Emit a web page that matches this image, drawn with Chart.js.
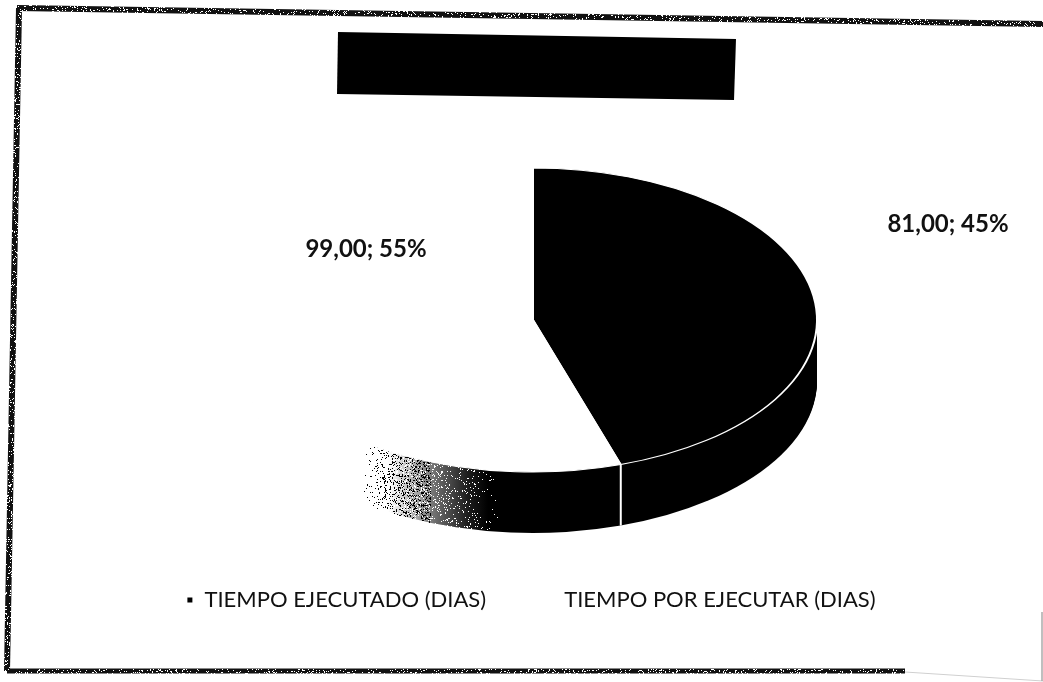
<!DOCTYPE html>
<html>
<head>
<meta charset="utf-8">
<style>
html,body{margin:0;padding:0;background:#fff;overflow:hidden}
#wrap{position:relative;width:1043px;height:682px}
</style>
<script src="https://cdn.jsdelivr.net/npm/chart.js@4"></script>
</head>
<body>
<div id="wrap"><canvas id="c" width="1043" height="682"></canvas></div>
<script>
const categories = ['TIEMPO EJECUTADO (DIAS)', 'TIEMPO POR EJECUTAR (DIAS)'];
const values = [81, 99];
const percents = [45, 55];
const sliceColors = ['#000000', '#ffffff'];

const CX = 533, CY = 320, RX = 284, RY = 152, DEPTH = 61;
const labelPositions = [[948, 224], [366, 249]];

function faceTransform(ctx, arc, dy) {
  ctx.translate(CX, CY + dy);
  ctx.scale(1, RY / RX);
  ctx.translate(-arc.x, -arc.y);
}
// fixed-seed texture for the scanned grain (decoration only, not data)
function grain(x, y) {
  const s = Math.sin(x * 12.9898 + y * 78.233) * 43758.5453;
  return s - Math.floor(s);
}

const pie3d = {
  id: 'pie3d',
  beforeDatasetsDraw(chart) {
    const ctx = chart.ctx;
    const arcs = chart.getDatasetMeta(0).data;
    const ax = arcs[0].x;
    const fade = ctx.createLinearGradient(ax - 145, 0, ax - 45, 0);
    fade.addColorStop(0, '#ffffff');
    fade.addColorStop(0.2, '#c0c0c0');
    fade.addColorStop(0.5, '#666666');
    fade.addColorStop(0.8, '#1c1c1c');
    fade.addColorStop(1, '#000000');
    // side wall: the library's own arcs, redrawn stacked below the top face
    ctx.save();
    ctx.beginPath();
    ctx.rect(0, CY, chart.width, chart.height - CY);
    ctx.clip();
    for (let dy = DEPTH; dy >= 1; dy--) {
      arcs.forEach((arc, i) => {
        const orig = arc.options;
        arc.options = Object.assign({}, orig, {
          backgroundColor: i === 0 ? '#000000' : fade,
          borderWidth: 0
        });
        ctx.save();
        faceTransform(ctx, arc, dy);
        arc.draw(ctx);
        ctx.restore();
        arc.options = orig;
      });
    }
    ctx.restore();
    // scanned grain over the fading part of the wall
    ctx.save();
    for (let x = 362; x < 500; x++) {
      const t = (x - CX) / RX;
      const top = CY + RY * Math.sqrt(1 - t * t);
      const u = (x - 362) / 138;
      for (let y = Math.floor(top); y < top + DEPTH; y++) {
        const g = grain(x, y);
        if (u < 0.5) {
          if (g < 0.22 * (1 - u) && u > 0.15) { ctx.fillStyle = '#ffffff'; ctx.fillRect(x, y, 1, 1); }
          else if (g > 1 - Math.min(u * 0.9, 0.25)) { ctx.fillStyle = '#000000'; ctx.fillRect(x, y, 1, 1); }
        } else if (g < 0.3 * (1 - u)) {
          ctx.fillStyle = '#ffffff'; ctx.fillRect(x, y, 1, 1);
        }
      }
    }
    ctx.restore();
    // white seam on the wall at the slice boundary
    const a = arcs[0];
    const ex = CX + RX * Math.cos(a.endAngle);
    const ey = CY + RY * Math.sin(a.endAngle);
    ctx.save();
    ctx.strokeStyle = '#ffffff';
    ctx.lineWidth = 2;
    ctx.beginPath();
    ctx.moveTo(ex, ey);
    ctx.lineTo(ex, ey + DEPTH);
    ctx.stroke();
    ctx.restore();
    // top face: the chart draws its arcs inside this squashed transform
    ctx.save();
    faceTransform(ctx, a, 0);
  },
  afterDatasetsDraw(chart) {
    chart.ctx.restore();
  },
  afterDraw(chart) {
    const ctx = chart.ctx;
    ctx.save();
    // blacked-out title block
    ctx.fillStyle = '#000000';
    ctx.beginPath();
    ctx.moveTo(338, 32); ctx.lineTo(736, 39); ctx.lineTo(734, 100); ctx.lineTo(337, 94);
    ctx.closePath();
    ctx.fill();
    // scanned frame
    const seg = (x0, y0, x1, y1, w, col) => {
      ctx.strokeStyle = col;
      ctx.lineWidth = w;
      ctx.setLineDash([]);
      ctx.beginPath(); ctx.moveTo(x0, y0); ctx.lineTo(x1, y1); ctx.stroke();
      if (w < 3) return;
      const n = Math.hypot(x1 - x0, y1 - y0);
      ctx.fillStyle = '#ffffff';
      for (let d = 0; d < n; d++) {
        const px = x0 + (x1 - x0) * d / n, py = y0 + (y1 - y0) * d / n;
        for (let o = -w / 2; o < w / 2; o++) {
          const g = grain(d, o + x0);
          if (g < 0.13) {
            const vertical = Math.abs(y1 - y0) > Math.abs(x1 - x0);
            ctx.fillRect(Math.round(px + (vertical ? o : 0)), Math.round(py + (vertical ? 0 : o)), 1, 1);
          }
        }
      }
    };
    seg(17, 8, 1043, 24, 6, '#111111');
    seg(19, 8, 7, 671, 6, '#111111');
    seg(7, 671, 905, 671, 5, '#111111');
    seg(905, 672, 1043, 681, 1, '#d0d0d0');
    seg(1042, 612, 1042, 681, 1.5, '#aaaaaa');
    // data labels
    ctx.setLineDash([]);
    ctx.fillStyle = '#111111';
    ctx.font = 'bold 24px Lato';
    ctx.textAlign = 'center';
    ctx.textBaseline = 'middle';
    values.forEach((v, i) => {
      const t = v.toFixed(2).replace('.', ',') + '; ' + percents[i] + '%';
      ctx.fillText(t, labelPositions[i][0], labelPositions[i][1]);
    });
    ctx.restore();
  }
};

new Chart(document.getElementById('c'), {
  type: 'pie',
  plugins: [pie3d],
  data: {
    labels: categories,
    datasets: [{
      data: values,
      backgroundColor: sliceColors,
      borderColor: '#ffffff',
      borderWidth: 2,
      radius: RX,
      clip: false
    }]
  },
  options: {
    responsive: false,
    animation: false,
    layout: { padding: { left: 19, right: 0, top: 0, bottom: 61 } },
    plugins: {
      title: { display: false },
      tooltip: { enabled: false },
      legend: {
        position: 'bottom',
        labels: {
          boxWidth: 7,
          boxHeight: 7,
          padding: 60,
          color: '#111111',
          font: { family: 'Lato', size: 22 }
        }
      }
    }
  }
});
</script>
</body>
</html>
